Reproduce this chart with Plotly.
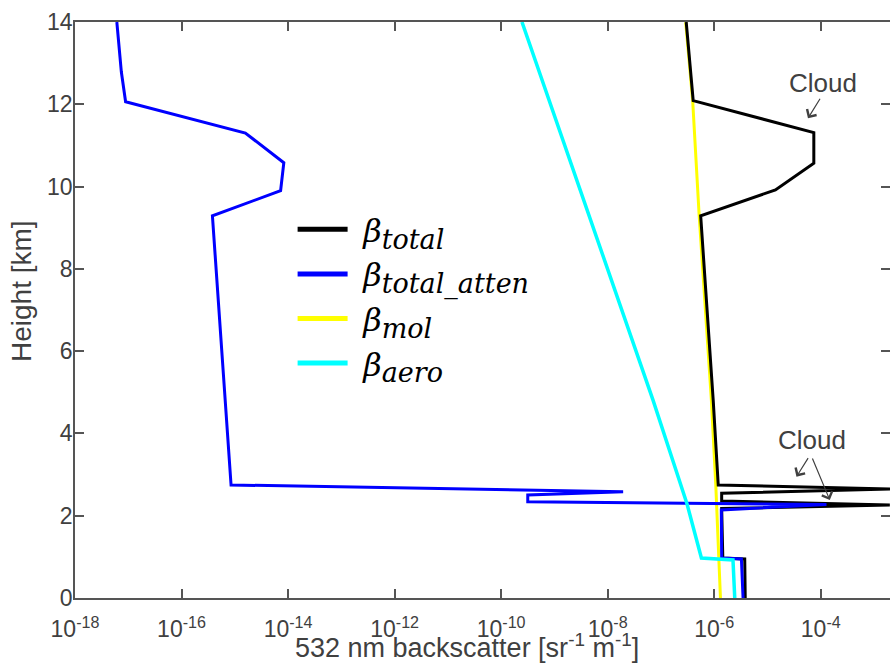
import plotly.graph_objects as go

# ---- data (heights in km, backscatter in sr^-1 m^-1) ----
total_h = [14, 12.09, 11.31, 10.57, 9.92, 9.29, 4.81, 2.747, 2.649, 2.545, 2.358, 2.260, 2.175, 0.972, 0.948, 0]
total_b = [2.98e-7, 4.03e-7, 7.41e-5, 7.41e-5, 1.41e-5, 5.57e-7, 9.57e-7, 1.19e-6, 2.25e-3, 1.38e-6,
           1.38e-6, 1.98e-3, 1.38e-6, 1.45e-6, 3.74e-6, 3.82e-6]

atten_h = [14, 12.79, 12.06, 11.30, 10.58, 9.90, 9.29, 2.747, 2.584, 2.504, 2.341, 2.273, 2.139, 0.972, 0.948, 0]
atten_b = [6.10e-18, 7.41e-18, 8.91e-18, 1.58e-15, 8.32e-15, 7.24e-15, 3.80e-16, 8.51e-16, 1.95e-8, 3.16e-10,
           3.16e-10, 1.28e-4, 1.36e-6, 1.38e-6, 3.24e-6, 3.48e-6]

mol_h = [14, 12.09, 9.29, 4.81, 2.75, 0]
mol_b = [2.91e-7, 3.94e-7, 5.22e-7, 8.85e-7, 1.07e-6, 1.31e-6]

aero_h = [14, 4.81, 2.29, 0.972, 0.924, 0]
aero_b = [2.46e-10, 7.10e-8, 3.08e-7, 5.75e-7, 2.25e-6, 2.43e-6]

x_tickvals = [1e-18, 1e-16, 1e-14, 1e-12, 1e-10, 1e-8, 1e-6, 1e-4]
x_ticktext = ["10<sup>-18</sup>", "10<sup>-16</sup>", "10<sup>-14</sup>", "10<sup>-12</sup>",
              "10<sup>-10</sup>", "10<sup>-8</sup>", "10<sup>-6</sup>", "10<sup>-4</sup>"]
y_tickvals = [0, 2, 4, 6, 8, 10, 12, 14]

subs = ["total", "total_atten", "mol", "aero"]
colors = ["#000000", "#0000ff", "#ffff00", "#00ffff"]
names = ["\u2004<i>β</i><sub><span style='font-size:27px'><i>%s</i></span></sub>" % s for s in subs]

fig = go.Figure()
# drawing order: mol, total, atten, aero
fig.add_trace(go.Scatter(x=mol_b, y=mol_h, mode="lines", line=dict(color=colors[2], width=3), showlegend=False))
fig.add_trace(go.Scatter(x=total_b, y=total_h, mode="lines", line=dict(color=colors[0], width=3), showlegend=False))
fig.add_trace(go.Scatter(x=atten_b, y=atten_h, mode="lines", line=dict(color=colors[1], width=3), showlegend=False))
fig.add_trace(go.Scatter(x=aero_b, y=aero_h, mode="lines", line=dict(color=colors[3], width=3.5), showlegend=False))

# legend entries
for i, (n, c) in enumerate(zip(names, colors)):
    fig.add_trace(go.Scatter(x=[None], y=[None], mode="lines", name=n, line=dict(color=c, width=5),
                             legendrank=i + 1, yaxis="y2"))

axcol = "#555555"
txtcol = "#404040"
fig.update_layout(
    width=890, height=665,
    margin=dict(l=75, r=0, t=22, b=67),
    paper_bgcolor="white", plot_bgcolor="white",
    font=dict(family="Liberation Sans, Arial, sans-serif", color=txtcol, size=23),
    xaxis=dict(type="log", range=[-18, -2.70], tickvals=x_tickvals, ticktext=x_ticktext,
               ticks="inside", ticklen=9, tickwidth=1.5, tickcolor=axcol,
               showline=True, linecolor=axcol, linewidth=1.5, mirror="ticks",
               showgrid=False, zeroline=False, tickfont=dict(size=23),
               ticklabelstandoff=10, automargin=False),
    yaxis=dict(range=[0, 14], tickvals=y_tickvals,
               ticks="inside", ticklen=9, tickwidth=1.5, tickcolor=axcol,
               showline=True, linecolor=axcol, linewidth=1.5,
               showgrid=False, zeroline=False, tickfont=dict(size=23),
               ticklabelstandoff=-4, automargin=False),
    yaxis2=dict(overlaying="y", side="right", matches="y", range=[0, 14],
                tickvals=y_tickvals, ticks="inside", ticklen=9, tickwidth=1.5,
                tickcolor=axcol, showline=False, showticklabels=False, showgrid=False, zeroline=False,
                automargin=False),
    legend=dict(x=0.267, y=0.6875, xanchor="left", yanchor="top", bgcolor="rgba(0,0,0,0)",
                font=dict(family="DejaVu Serif, serif", size=32, color="black"),
                itemwidth=50),
)

# axis titles
fig.add_annotation(text="532 nm backscatter [sr<sup>-1</sup> m<sup>-1</sup>]", xref="paper", yref="paper",
                   x=0.481, y=-0.083, xanchor="center", yanchor="middle", showarrow=False,
                   font=dict(size=27, color=txtcol))
fig.add_annotation(text="Height [km]", xref="paper", yref="paper", textangle=-90,
                   x=-0.065, y=0.533, xanchor="center", yanchor="middle", showarrow=False,
                   font=dict(size=28, color=txtcol))

fig.add_annotation(x=-3.957, y=12.51, text="Cloud", showarrow=False, font=dict(size=26, color=txtcol))
fig.add_annotation(x=-4.156, y=3.84, text="Cloud", showarrow=False, font=dict(size=26, color=txtcol))
for (tx, ty, ax, ay) in [(-4.24, 11.66, 13, -21), (-4.456, 2.95, 12.6, -20), (-3.83, 2.38, -18, -43)]:
    fig.add_annotation(x=tx, y=ty, text="", showarrow=True, ax=ax, ay=ay, arrowhead=4,
                       arrowsize=1.8, arrowwidth=1.2, arrowcolor=txtcol, standoff=0, startstandoff=0)

# remove the default page margin and scrollbars so the 890x665 figure fills the window exactly
fig.write_html("out.html", config={"displayModeBar": False},
               post_script="document.body.style.margin='0';document.body.style.overflow='hidden';")
